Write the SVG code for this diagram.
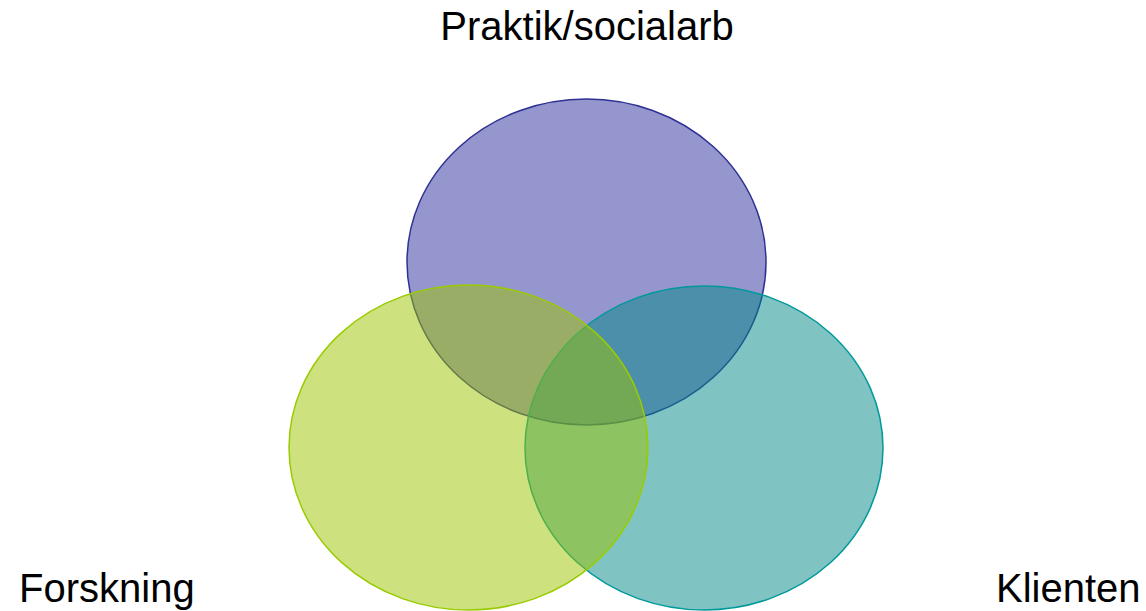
<svg xmlns="http://www.w3.org/2000/svg" width="1146" height="611" viewBox="0 0 1146 611">
<style>
.lbl{font-family:"Liberation Sans",Arial,sans-serif;font-size:40px;fill:#000}
.c{stroke-width:1.5}
</style>
<rect width="1146" height="611" fill="#fff"/>
<g id="node-praktik">
<ellipse class="c" cx="586.5" cy="262" rx="179.5" ry="163" fill="rgb(45,45,160)" fill-opacity="0.5" stroke="#2e3192"/>
<text class="lbl" x="587" y="40" text-anchor="middle">Praktik/socialarb</text>
</g>
<g id="node-klienten">
<ellipse class="c" cx="704" cy="448" rx="179" ry="162" fill="rgb(0,135,135)" fill-opacity="0.5" stroke="#009999"/>
<text class="lbl" x="996" y="602">Klienten</text>
</g>
<g id="node-forskning">
<ellipse class="c" cx="468.5" cy="447.5" rx="179.5" ry="162.5" fill="rgb(155,195,0)" fill-opacity="0.5" stroke="#99cc00"/>
<text class="lbl" x="19" y="602">Forskning</text>
</g>
<g id="connectors"/>
</svg>
